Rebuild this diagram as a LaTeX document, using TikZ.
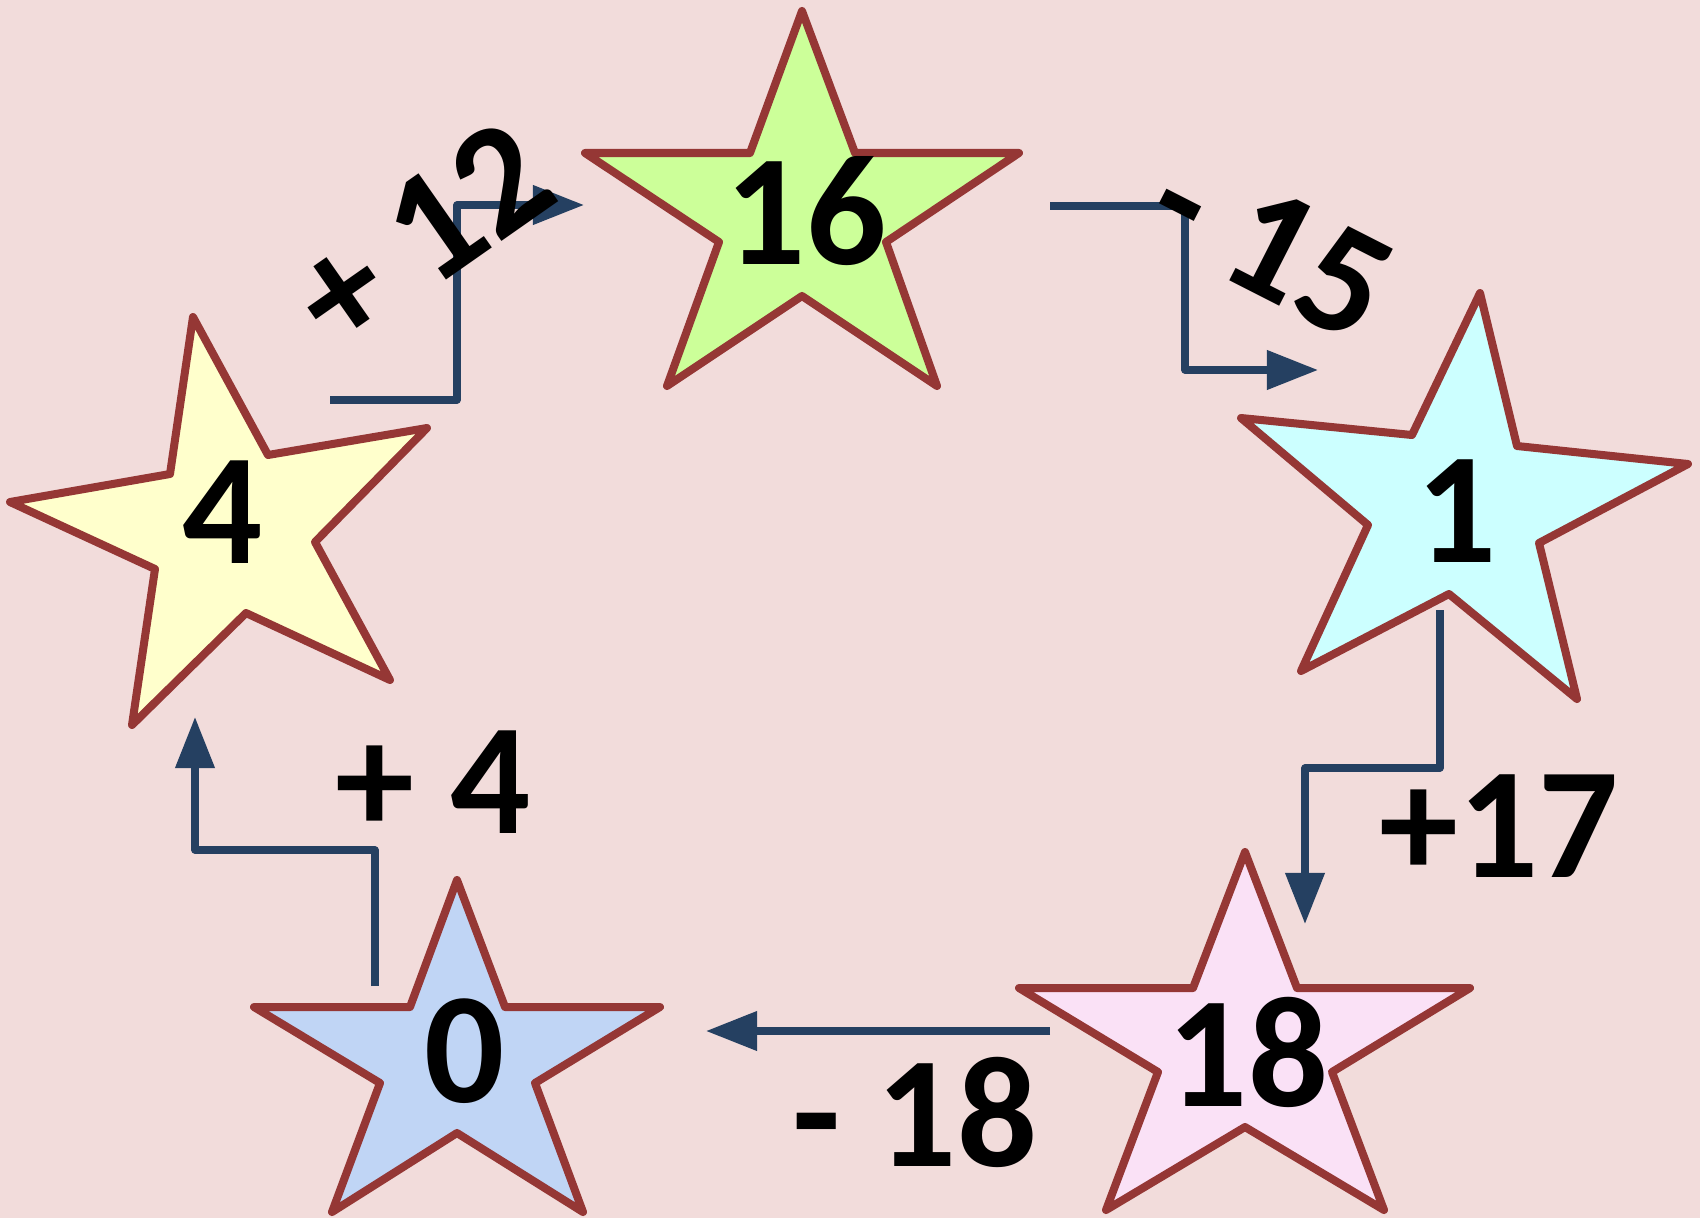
\documentclass[tikz,border=0pt]{standalone}
\usepackage{fontspec}
\setmainfont{Carlito}
\usetikzlibrary{arrows.meta}
\definecolor{bg}{HTML}{F2DCDB}
\definecolor{starline}{HTML}{953735}
\definecolor{conn}{HTML}{254061}
\definecolor{fillgreen}{HTML}{CCFF99}
\definecolor{fillcyan}{HTML}{CCFFFF}
\definecolor{fillpink}{HTML}{FAE1F6}
\definecolor{fillblue}{HTML}{C0D5F5}
\definecolor{fillyellow}{HTML}{FFFFCC}
\begin{document}
\begin{tikzpicture}[x=0.01cm,y=-0.01cm,
  starshape/.style={draw=starline,line width=0.08cm,line join=round},
  num/.style={font=\fontsize{45}{54}\selectfont\bfseries,inner sep=0pt,text=black},
  conline/.style={draw=conn,line width=0.072cm,line join=round,line cap=butt,-{Triangle[length=0.51cm,width=0.38cm]}}]
\useasboundingbox[fill=bg] (0,0) rectangle (1700,1218);

% stars
\path[starshape,fill=fillgreen] (802,11) -- (855,153) -- (1019,153) -- (886,242) -- (937,386) -- (802,296) -- (667,386) -- (719,242) -- (585,153) -- (750,153) -- cycle;
\path[starshape,fill=fillcyan] (1480,293) -- (1517,446) -- (1688,464) -- (1539,543) -- (1577,699) -- (1449,594) -- (1301,671) -- (1368,525) -- (1241,418) -- (1412,435) -- cycle;
\path[starshape,fill=fillpink] (1245,852) -- (1297,988) -- (1470,988) -- (1332,1072) -- (1384,1210) -- (1245,1127) -- (1106,1210) -- (1158,1072) -- (1019,988) -- (1193,988) -- cycle;
\path[starshape,fill=fillblue] (457,880) -- (505,1007) -- (660,1007) -- (535,1083) -- (583,1212) -- (457,1133) -- (332,1212) -- (380,1083) -- (254,1007) -- (410,1007) -- cycle;
\path[starshape,fill=fillyellow] (193,317) -- (268,455) -- (427,428) -- (315,542) -- (390,680) -- (246,613) -- (132,725) -- (155,569) -- (10,502) -- (170,474) -- cycle;

% numbers
\node[num] (n16) at (806,211) {16};
\node[num] (n1) at (1457,511) {1};
\node[num] (n18) at (1248,1052) {18};
\node[num] (n0) at (465,1051) {0};
\node[num] (n4) at (223,512) {4};

% connector points
\coordinate (a1s) at (330,400);
\coordinate (a1k) at (457,205);
\coordinate (a1e) at (584,205);
\coordinate (a2s) at (1050,206);
\coordinate (a2k) at (1185,370);
\coordinate (a2e) at (1318,370);
\coordinate (a3s) at (1440,610);
\coordinate (a3k) at (1305,768);
\coordinate (a3e) at (1305,924);
\coordinate (a4s) at (1050,1031);
\coordinate (a4e) at (706,1031);
\coordinate (a5s) at (375,986);
\coordinate (a5k) at (195,850);
\coordinate (a5e) at (195,717);

% connectors
\draw[conline] (a1s) -| (a1k) -- (a1e);
\draw[conline] (a2s) -| (a2k) -- (a2e);
\draw[conline] (a3s) |- (a3k) -- (a3e);
\draw[conline] (a4s) -- (a4e);
\draw[conline] (a5s) |- (a5k) -- (a5e);

% labels
\node[num,rotate=35] (l12) at (421,235) {+ 12};
\node[num,rotate=-27] (l15) at (1271,245) {- 15};
\node[num] (l17) at (1499,826) {+17};
\node[num] (l18) at (915,1112) {- 18};
\node[num] (l4) at (433,782) {+ 4};
\end{tikzpicture}
\end{document}
